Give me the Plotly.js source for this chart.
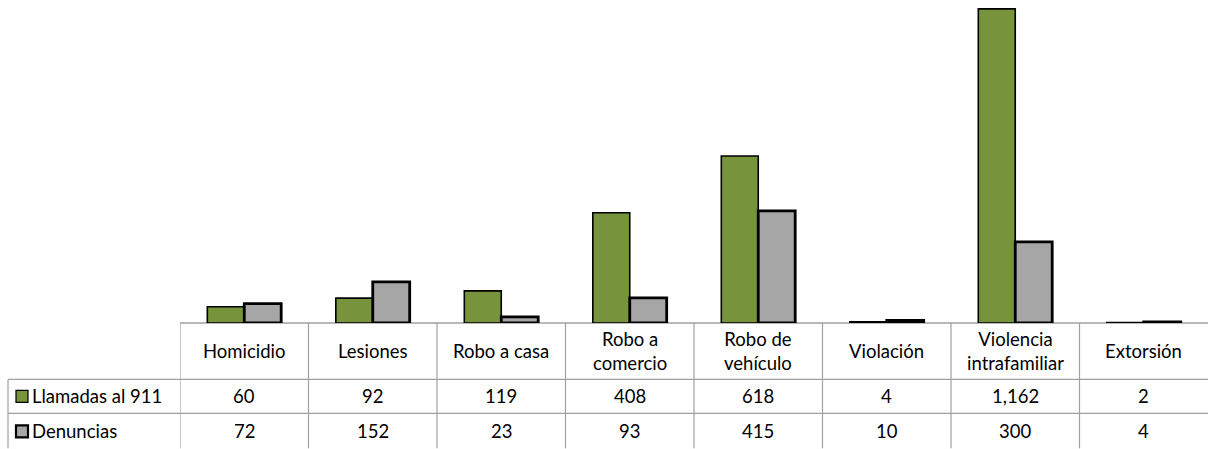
<!DOCTYPE html>
<html>
<head>
<meta charset="utf-8">
<script src="https://cdn.plot.ly/plotly-3.0.1.min.js"></script>
<style>html,body{margin:0;padding:0;background:#fff;}#chart{width:1208px;height:449px;}</style>
</head>
<body>
<div id="chart"></div>
<script>
const categories = ["Homicidio", "Lesiones", "Robo a casa", "Robo a<br>comercio", "Robo de<br>vehículo", "Violación", "Violencia<br>intrafamiliar", "Extorsión"];
const seriesNames = ["Llamadas al 911", "Denuncias"];
const llamadas = [60, 92, 119, 408, 618, 4, 1162, 2];
const denuncias = [72, 152, 23, 93, 415, 10, 300, 4];

const W = 1208, H = 449, L = 180, B = 125.5;
const plotH = H - B;
const px2x = p => (p - L) / (W - L);
const py2y = p => (plotH - p) / plotH;
const FONT = "Lato, 'Open Sans', sans-serif";
const FS = 18.5;
const green = "#77933C", gray = "#A6A6A6", gridCol = "#A0A0A0";
const fmt = v => v.toLocaleString("en-US");

const traces = [
  {type: "bar", name: seriesNames[0], x: categories, y: llamadas,
   marker: {color: green, line: {color: "#000", width: 1.6}}, hoverinfo: "none"},
  {type: "bar", name: seriesNames[1], x: categories, y: denuncias,
   marker: {color: gray, line: {color: "#000", width: 2.8}}, hoverinfo: "none"}
];

const shapes = [];
const annotations = [];
const yHdrBot = py2y(380), yR1Bot = py2y(414), yBot = py2y(449);
shapes.push({type: "line", xref: "paper", yref: "paper", x0: 0, x1: 1, y0: 0, y1: 0, line: {color: gridCol, width: 1.5}, layer: "below"});
[yHdrBot, yR1Bot].forEach(y => shapes.push({type: "line", xref: "paper", yref: "paper", x0: px2x(8), x1: 1, y0: y, y1: y, line: {color: gridCol, width: 1.2}}));
for (let i = 0; i < categories.length; i++) {
  shapes.push({type: "line", xref: "x", yref: "paper", x0: i - 0.5, x1: i - 0.5, y0: 0, y1: yBot, line: {color: gridCol, width: 1.2}});
}
shapes.push({type: "line", xref: "paper", yref: "paper", x0: px2x(8), x1: px2x(8), y0: yHdrBot, y1: yBot, line: {color: gridCol, width: 1.2}});
const rowsY = [397, 432];
const keyCols = [green, gray], keyW = [1.2, 2.2];
rowsY.forEach((ry, k) => {
  shapes.push({type: "rect", xref: "paper", yref: "paper", x0: px2x(16), x1: px2x(28), y0: py2y(ry - 6), y1: py2y(ry + 6), fillcolor: keyCols[k], line: {color: "#000", width: keyW[k]}});
  annotations.push({xref: "paper", yref: "paper", x: px2x(30), y: py2y(ry), xanchor: "left", yanchor: "middle", text: seriesNames[k], showarrow: false, font: {family: FONT, size: FS, color: "#000"}});
});
const vals = [llamadas, denuncias];
categories.forEach((c, i) => {
  annotations.push({xref: "x", yref: "paper", x: c, y: py2y(352), xanchor: "center", yanchor: "middle", text: c, showarrow: false, font: {family: FONT, size: FS, color: "#000"}});
  vals.forEach((arr, k) => annotations.push({xref: "x", yref: "paper", x: c, y: py2y(rowsY[k]), xanchor: "center", yanchor: "middle", text: fmt(arr[i]), showarrow: false, font: {family: FONT, size: FS, color: "#000"}}));
});

const layout = {
  width: W, height: H,
  margin: {l: L, r: 0, t: 0, b: B, pad: 0},
  paper_bgcolor: "#fff", plot_bgcolor: "#fff",
  showlegend: false,
  barmode: "group", bargap: 0.425, bargroupgap: 0,
  xaxis: {type: "category", range: [-0.5, categories.length - 0.5], showticklabels: false, showgrid: false, zeroline: false, showline: false, ticks: "", fixedrange: true},
  yaxis: {range: [0, 1195], showticklabels: false, showgrid: false, zeroline: false, showline: false, ticks: "", fixedrange: true},
  shapes: shapes,
  annotations: annotations,
  font: {family: FONT}
};

Plotly.newPlot("chart", traces, layout, {staticPlot: true, displayModeBar: false});
</script>
</body>
</html>
